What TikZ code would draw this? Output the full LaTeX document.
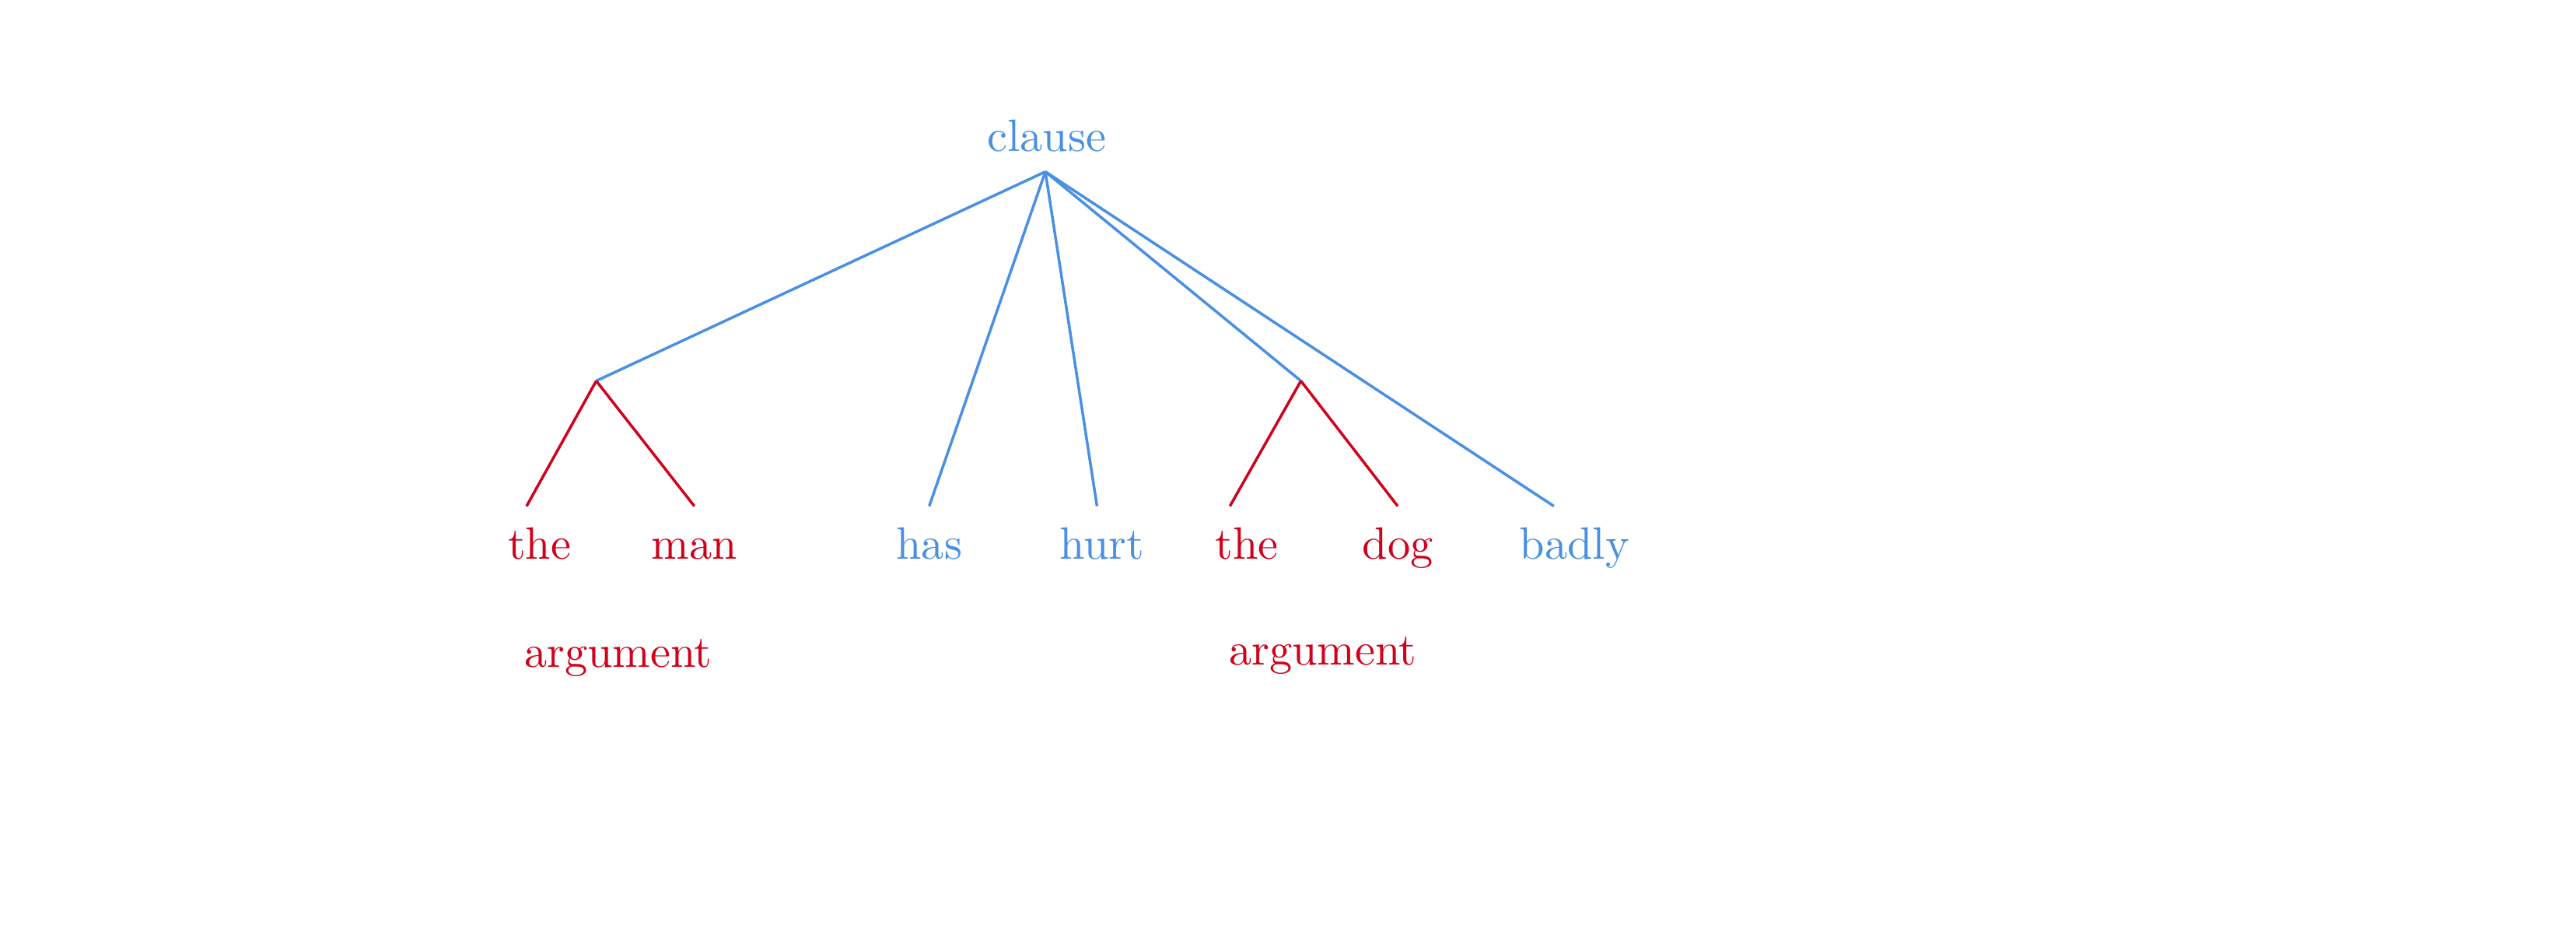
\documentclass[tikz,border=0pt]{standalone}
\definecolor{tblue}{RGB}{74,144,226}
\definecolor{tred}{RGB}{208,2,27}
\tikzset{
  bw/.style={text=tblue,anchor=base,inner sep=0pt},
  rw/.style={text=tred,anchor=base,inner sep=0pt},
  bl/.style={draw=tblue,line width=0.6pt},
  rl/.style={draw=tred,line width=0.6pt}
}
\begin{document}
\begin{tikzpicture}[x=1cm,y=-1cm]
\useasboundingbox (0,0) rectangle (19.96,7.28);
\node[bw] (clause) at (8.11,1.17) {clause};
\coordinate (top) at (8.10,1.33);
\coordinate (np1) at (4.62,2.95);
\coordinate (np2) at (10.08,2.95);
\coordinate (e1) at (4.08,3.92);
\coordinate (e2) at (5.38,3.92);
\coordinate (e3) at (7.20,3.92);
\coordinate (e4) at (8.50,3.92);
\coordinate (e5) at (9.53,3.92);
\coordinate (e6) at (10.83,3.92);
\coordinate (e7) at (12.04,3.92);
\node[rw] (the1) at (4.18,4.33) {the};
\node[rw] (man) at (5.38,4.33) {man};
\node[bw] (has) at (7.20,4.33) {has};
\node[bw] (hurt) at (8.54,4.33) {hurt};
\node[rw] (the2) at (9.66,4.33) {the};
\node[rw] (dog) at (10.83,4.33) {dog};
\node[bw] (badly) at (12.20,4.33) {badly};
\node[rw] (arg1) at (4.79,5.17) {argument};
\node[rw] (arg2) at (10.25,5.15) {argument};
\draw[bl] (top) -- (np1);
\draw[bl] (top) -- (e3);
\draw[bl] (top) -- (e4);
\draw[bl] (top) -- (np2);
\draw[bl] (top) -- (e7);
\draw[rl] (np1) -- (e1);
\draw[rl] (np1) -- (e2);
\draw[rl] (np2) -- (e5);
\draw[rl] (np2) -- (e6);
\end{tikzpicture}
\end{document}
